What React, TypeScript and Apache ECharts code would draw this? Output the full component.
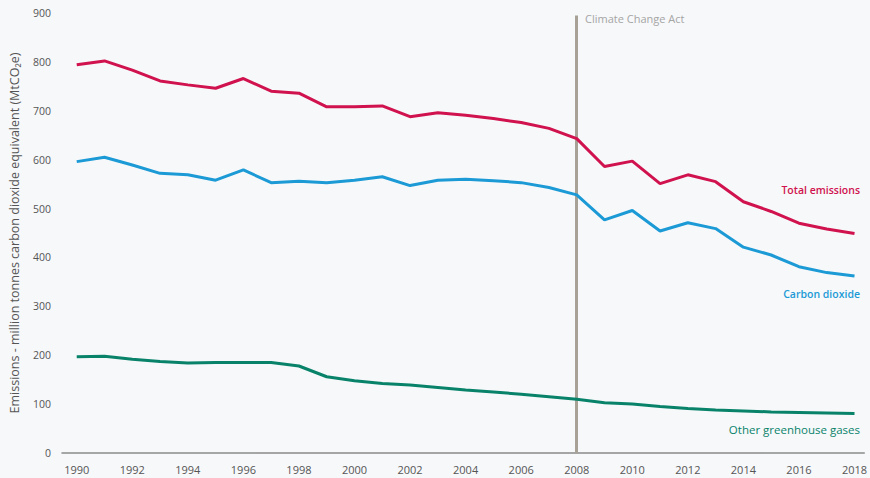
import React, { useEffect, useRef } from "react";
import * as echarts from "echarts";

const years = [1990,1991,1992,1993,1994,1995,1996,1997,1998,1999,2000,2001,2002,2003,2004,2005,2006,2007,2008,2009,2010,2011,2012,2013,2014,2015,2016,2017,2018];
const totalEmissions = [794,802,783,761,753,746,766,740,736,708,708,710,688,696,691,684,676,664,643,586,597,551,569,555,514,494,470,458,449];
const carbonDioxide = [596,605,589,572,569,558,579,553,556,553,558,565,547,558,560,557,553,543,528,477,496,454,471,459,421,405,381,369,362];
const otherGases = [197,198,192,187,184,185,185,185,178,156,148,142,139,134,129,125,120,115,110,103,100,95,91,88,86,84,83,82,81];
const xTickLabels = [1990,1992,1994,1996,1998,2000,2002,2004,2006,2008,2010,2012,2014,2016,2018];
const actYear = 2008;

const RED = "#d0124e";
const BLUE = "#1b9ad6";
const GREEN = "#08836a";
const FONT = "Open Sans";

export default function App() {
  const ref = useRef<HTMLDivElement>(null);
  useEffect(() => {
    if (!ref.current) return;
    const chart = echarts.init(ref.current, null, { renderer: "svg" });
    const pair = (arr: number[]) => years.map((y, i) => [y, arr[i]]);
    chart.setOption({
      animation: false,
      backgroundColor: "#f7f8fa",
      textStyle: { fontFamily: FONT },
      grid: { left: 55, right: 0, top: 13, bottom: 25 },
      xAxis: {
        type: "value",
        min: 1989.47,
        max: 2018.35,
        axisLine: { show: true, lineStyle: { color: "#8a8a8a", width: 1.5 } },
        axisTick: { show: false },
        splitLine: { show: false },
        axisLabel: {
          customValues: xTickLabels,
          color: "#555",
          fontSize: 11,
          fontFamily: FONT,
          margin: 11,
          formatter: (v: number) => String(v),
        },
      },
      yAxis: {
        type: "value",
        min: 0,
        max: 900,
        interval: 100,
        axisLine: { show: false },
        axisTick: { show: false },
        splitLine: { show: false },
        axisLabel: { color: "#555", fontSize: 10.5, fontFamily: FONT, margin: 11 },
        name: "Emissions - million tonnes carbon dioxide equivalent (MtCO\u2082e)",
        nameLocation: "middle",
        nameGap: 41,
        nameTextStyle: { color: "#555", fontSize: 12.5, fontFamily: FONT },
      },
      series: [
        {
          type: "line",
          name: "Total emissions",
          data: pair(totalEmissions),
          showSymbol: false,
          lineStyle: { color: RED, width: 3 },
          itemStyle: { color: RED },
          z: 3,
          markLine: {
            silent: true,
            symbol: "none",
            label: { show: false },
            lineStyle: { color: "#a8a196", width: 3, type: "solid" },
            data: [[{ coord: [actYear, 0] }, { coord: [actYear, 895] }]],
            z: 1,
          },
        },
        {
          type: "line",
          name: "Carbon dioxide",
          data: pair(carbonDioxide),
          showSymbol: false,
          lineStyle: { color: BLUE, width: 3 },
          itemStyle: { color: BLUE },
          z: 3,
        },
        {
          type: "line",
          name: "Other greenhouse gases",
          data: pair(otherGases),
          showSymbol: false,
          lineStyle: { color: GREEN, width: 3 },
          itemStyle: { color: GREEN },
          z: 3,
        },
      ],
      graphic: [
        { type: "text", left: 585, top: 13, style: { text: "Climate Change Act", fill: "#a5a5a5", font: `11px "${FONT}"` } },
        { type: "text", right: 10, top: 184, style: { text: "Total emissions", fill: RED, font: `600 10.5px "${FONT}"` } },
        { type: "text", right: 10, top: 288, style: { text: "Carbon dioxide", fill: BLUE, font: `600 10.5px "${FONT}"` } },
        { type: "text", right: 10, top: 423, style: { text: "Other greenhouse gases", fill: GREEN, font: `11.5px "${FONT}"` } },
      ],
    });
    return () => chart.dispose();
  }, []);
  return <div ref={ref} style={{ position: "absolute", left: 0, top: 0, width: 870, height: 478 }} />;
}
